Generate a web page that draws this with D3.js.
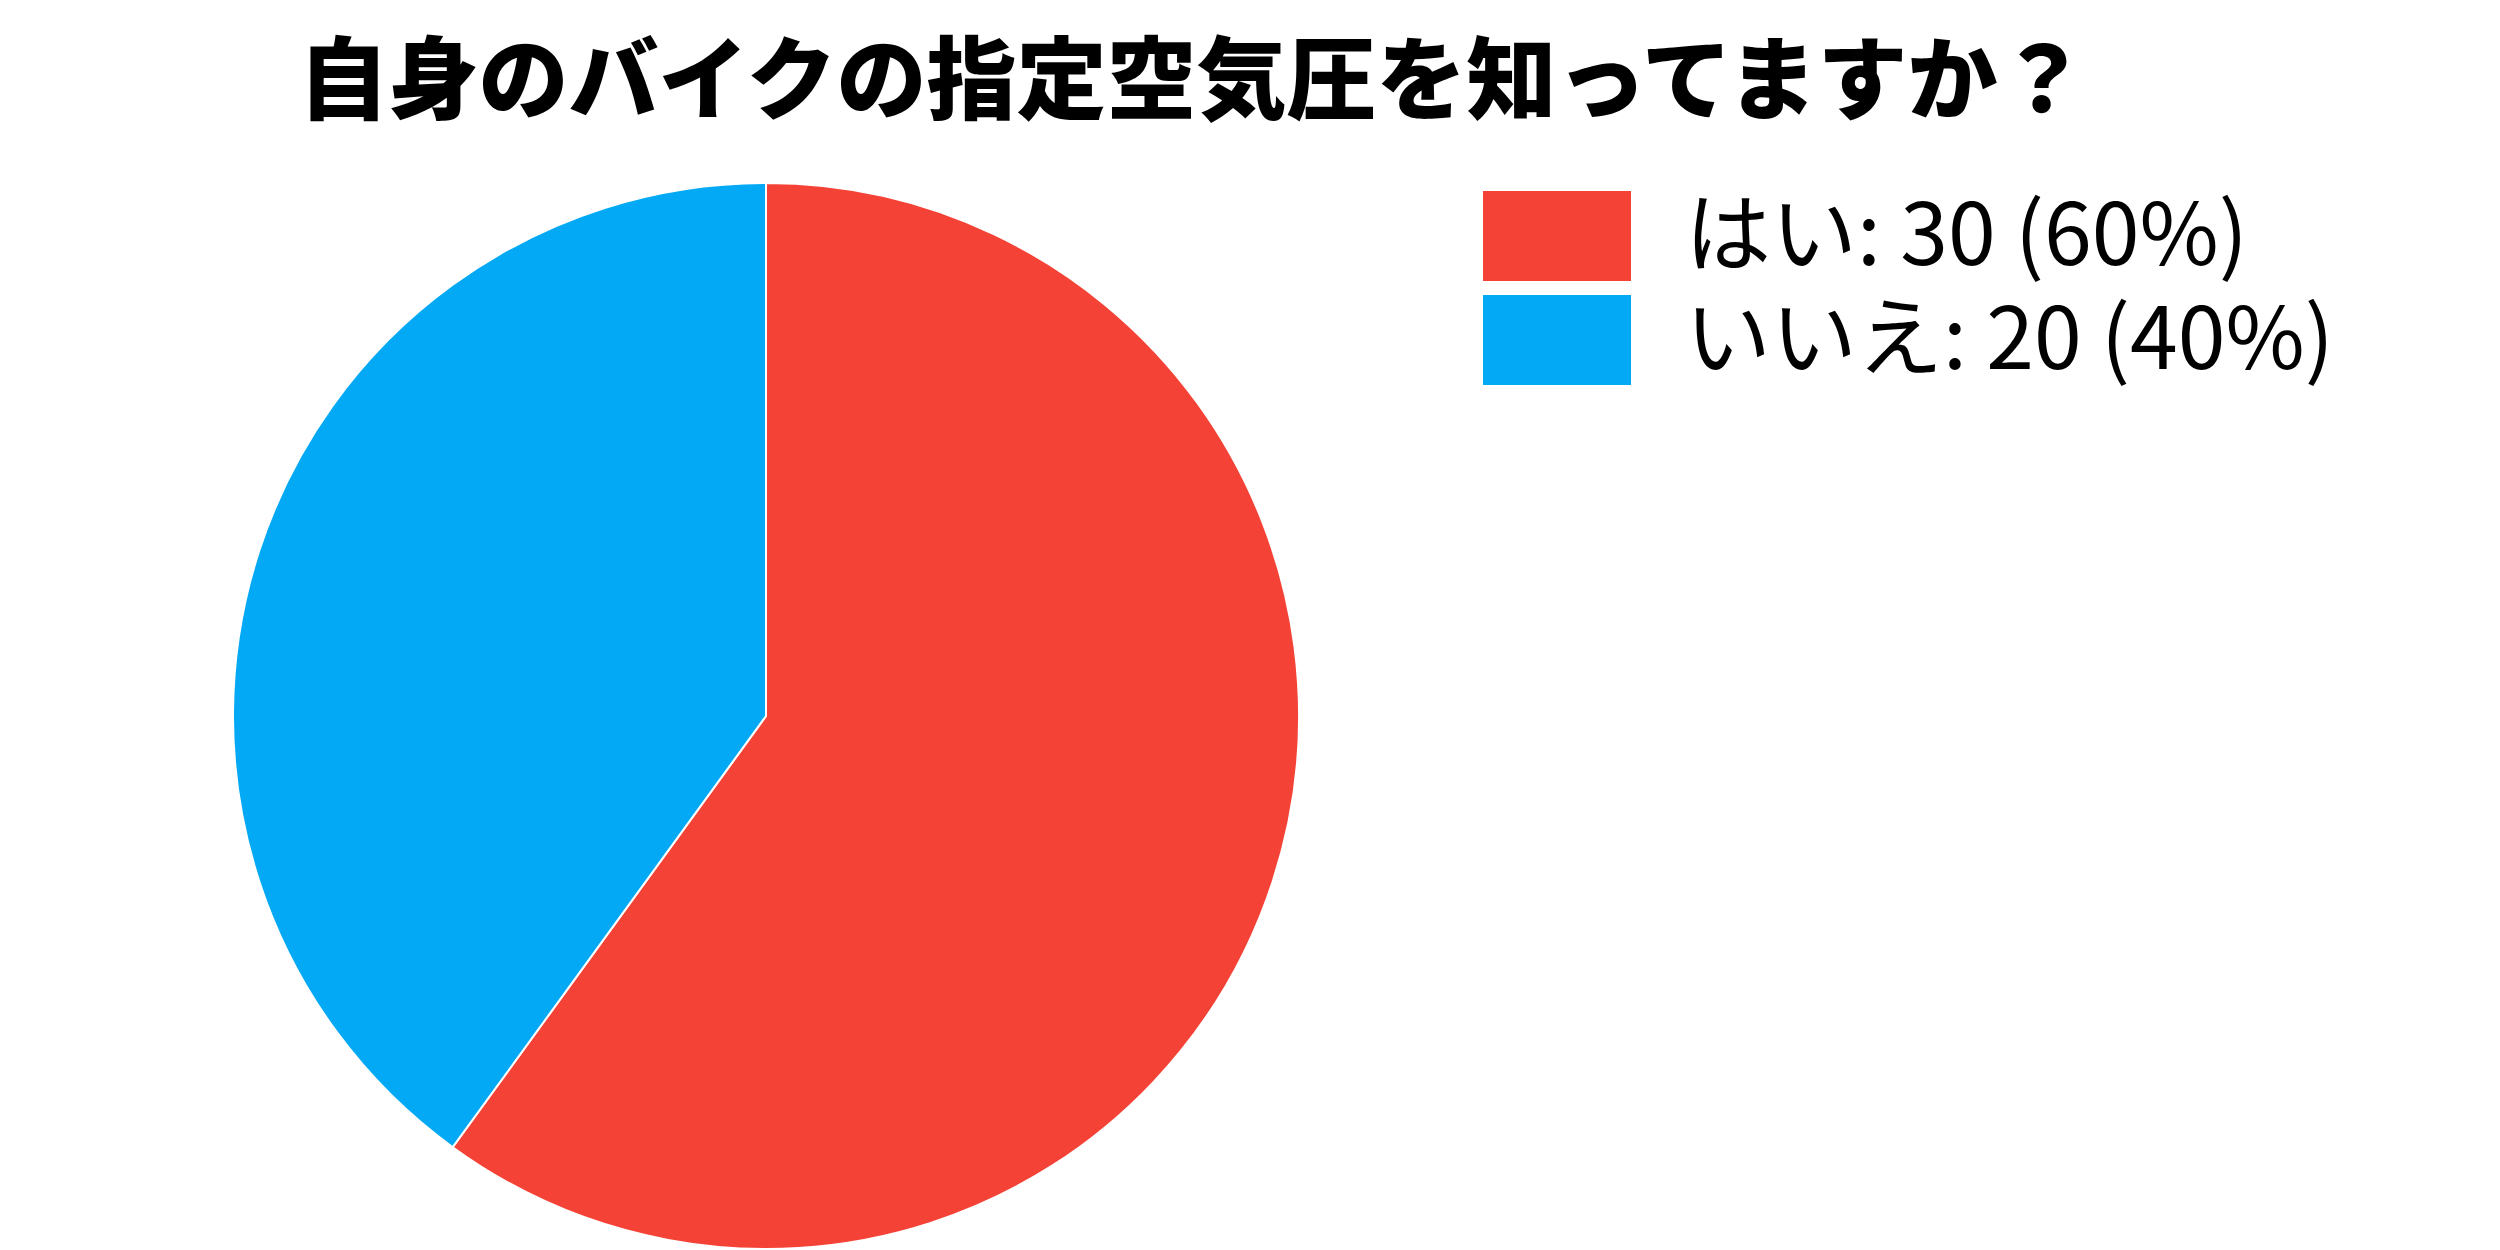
<!DOCTYPE html>
<html>
<head>
<meta charset="utf-8">
<script src="https://cdn.jsdelivr.net/npm/d3@7"></script>
<style>
  html, body { margin: 0; padding: 0; background: #ffffff; }
  svg { display: block; }
</style>
</head>
<body>
<svg id="chart" width="2500" height="1250"></svg>
<script>
// Survey answers
const categories = ["はい", "いいえ"];
const counts = [30, 20];
const colors = ["#F44336", "#03A9F4"];
const titleText = "自身のバイクの指定空気圧を知ってますか？";

const svg = d3.select("#chart");

// Title
svg.append("text")
  .attr("x", 1193)
  .attr("y", 73)
  .attr("text-anchor", "middle")
  .attr("dominant-baseline", "central")
  .style("font-family", "'Noto Sans CJK JP', sans-serif")
  .style("font-weight", 900)
  .style("font-size", "90px")
  .attr("fill", "#000")
  .text(titleText);

// Pie
const cx = 766, cy = 716, radius = 533;
const total = d3.sum(counts);
const data = categories.map((c, i) => ({ name: c, value: counts[i], color: colors[i] }));

const pie = d3.pie().value(d => d.value).sort(null);
const arc = d3.arc().innerRadius(0).outerRadius(radius);

const g = svg.append("g").attr("transform", `translate(${cx},${cy})`);
g.selectAll("path")
  .data(pie(data))
  .join("path")
  .attr("d", arc)
  .attr("fill", d => d.data.color)
  .attr("stroke", "#ffffff")
  .attr("stroke-width", 2);

// Legend
const legendY = d3.scaleBand().domain(categories).range([191, 191 + 2 * 104]).paddingInner(0);
const items = svg.append("g").selectAll("g")
  .data(data)
  .join("g")
  .attr("transform", d => `translate(1483,${legendY(d.name)})`);

items.append("rect")
  .attr("width", 148)
  .attr("height", 90)
  .attr("fill", d => d.color);

items.append("text")
  .attr("x", 202)
  .attr("y", 36)
  .attr("dominant-baseline", "central")
  .style("font-family", "'Noto Sans CJK JP', sans-serif")
  .style("font-size", "86px")
  .attr("fill", "#000")
  .text(d => `${d.name}: ${d.value} (${Math.round(d.value / total * 100)}%)`);
</script>
</body>
</html>
